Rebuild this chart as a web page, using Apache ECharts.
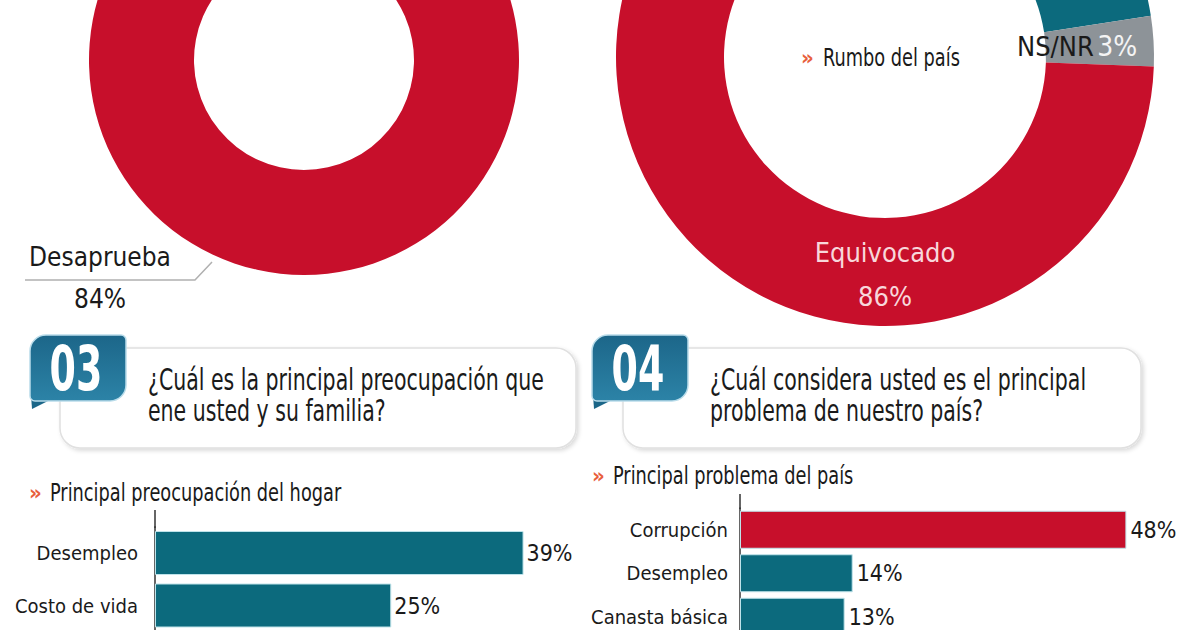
<!DOCTYPE html>
<html>
<head>
    <meta charset="utf-8">
    <title>Encuesta</title>
    <script src="https://cdn.jsdelivr.net/npm/echarts@6/dist/echarts.min.js"></script>
    <style>
        html, body { margin: 0; padding: 0; background: #fff; }
        #main { width: 1200px; height: 630px; }
    </style>
</head>
<body>
<div id="main"></div>
<script type="text/javascript">
    // datos
    var gestionNames = ['Aprueba', 'Desaprueba'];
    var gestionValues = [16, 84];

    var rumboNames = ['Correcto', 'NS/NR', 'Equivocado'];
    var rumboValues = [11, 3, 86];

    var hogarCats = ['Desempleo', 'Costo de vida'];
    var hogarValues = [39, 25];

    var paisCats = ['Corrupción', 'Desempleo', 'Canasta básica'];
    var paisValues = [48, 14, 13];

    var FONT = "'DejaVu Sans Condensed', 'Liberation Sans', sans-serif";
    var RED = '#c70f2b';
    var TEAL = '#0c6a7d';
    var GRAY = '#8d9398';
    var INK = '#1a1a1a';

    var myChart = echarts.init(document.getElementById('main'), null, {renderer: 'svg'});

    // piezas del encabezado de cada pregunta
    function header(x, num, boxX, boxW, lines) {
        return [
            {
                type: 'rect', z: 1,
                shape: {x: boxX, y: 348, width: boxW, height: 100, r: 20},
                style: {fill: '#fff', stroke: '#e0e0e0', lineWidth: 1.5,
                    shadowBlur: 4, shadowColor: 'rgba(0,0,0,0.15)', shadowOffsetX: 2, shadowOffsetY: 2}
            },
            {
                type: 'polygon', z: 2,
                shape: {points: [[x, 380], [x + 2, 409], [x + 24, 398]]},
                style: {fill: '#1b6688'}
            },
            {
                type: 'rect', z: 3,
                shape: {x: x, y: 335, width: 96, height: 66, r: [16, 5, 16, 5]},
                style: {
                    fill: new echarts.graphic.LinearGradient(0, 0, 0, 1, [
                        {offset: 0, color: '#1c6689'},
                        {offset: 1, color: '#2c83a7'}
                    ]),
                    stroke: '#b9dcea', lineWidth: 1.5
                }
            },
            {
                type: 'text', z: 4, x: x + 46, y: 369, scaleX: 0.68,
                style: {text: num, fill: '#fff', font: 'bold 62px ' + FONT, align: 'center', verticalAlign: 'middle'}
            },
            {
                type: 'text', z: 4, x: x + 118, y: 364, scaleX: 0.76,
                style: {text: lines, fill: INK, font: '30px ' + FONT, lineHeight: 31}
            }
        ];
    }

    function subtitle(x, y, txt) {
        return [
            {type: 'text', x: x, y: y, style: {text: '»', fill: '#e8603c', font: 'bold 22px ' + FONT, verticalAlign: 'middle'}},
            {type: 'text', x: x + 21, y: y, scaleX: 0.79, style: {text: txt, fill: INK, font: '25px ' + FONT, verticalAlign: 'middle'}}
        ];
    }

    var graphics = []
        .concat(header(30, '03', 60, 516, '¿Cuál es la principal preocupación que\nene usted y su familia?'))
        .concat(header(592, '04', 623, 518, '¿Cuál considera usted es el principal\nproblema de nuestro país?'))
        .concat(subtitle(29, 492, 'Principal preocupación del hogar'))
        .concat(subtitle(592, 475, 'Principal problema del país'))
        .concat([
            {type: 'text', x: 801, y: 57, z: 10, style: {text: '»', fill: '#e8603c', font: 'bold 22px ' + FONT, verticalAlign: 'middle'}},
            {type: 'text', x: 823, y: 57, z: 10, scaleX: 0.79, style: {text: 'Rumbo del país', fill: INK, font: '25px ' + FONT, verticalAlign: 'middle'}},
            // el eje vertical sube un poco por encima de las barras
            {type: 'line', shape: {x1: 155, y1: 510, x2: 155, y2: 528}, style: {stroke: '#333', lineWidth: 1.5}},
            {type: 'line', shape: {x1: 740, y1: 494, x2: 740, y2: 509}, style: {stroke: '#333', lineWidth: 1.5}}
        ]);

    var gestionColors = [TEAL, RED];
    var rumboColors = [TEAL, GRAY, RED];

    var option = {
        animation: false,
        textStyle: {fontFamily: FONT},
        graphic: graphics,
        grid: [
            {left: 155, top: 526.75, width: 378, height: 105, outerBoundsMode: 'none', containLabel: false},
            {left: 740, top: 508, width: 402.5, height: 130.5, outerBoundsMode: 'none', containLabel: false}
        ],
        xAxis: [
            {gridIndex: 0, type: 'value', min: 0, max: 40, show: false},
            {gridIndex: 1, type: 'value', min: 0, max: 50, show: false}
        ],
        yAxis: [
            {
                gridIndex: 0, type: 'category', inverse: true, data: hogarCats,
                axisLine: {lineStyle: {color: '#333', width: 1.5}},
                axisTick: {show: false},
                axisLabel: {fontSize: 20, color: INK, margin: 17, fontFamily: FONT}
            },
            {
                gridIndex: 1, type: 'category', inverse: true, data: paisCats,
                axisLine: {lineStyle: {color: '#333', width: 1.5}},
                axisTick: {show: false},
                axisLabel: {fontSize: 20, color: INK, margin: 12, fontFamily: FONT}
            }
        ],
        series: [
            {
                type: 'pie', silent: true,
                center: [304, 60], radius: [110, 215],
                startAngle: 118.8, avoidLabelOverlap: false,
                label: {show: false},
                labelLine: {show: false},
                data: gestionNames.map(function (n, i) {
                    var d = {name: n, value: gestionValues[i], itemStyle: {color: gestionColors[i]}};
                    if (n === 'Desaprueba') {
                        d.label = {
                            show: true, formatter: '{b}\n{c}%', color: INK,
                            fontSize: 26, lineHeight: 42, align: 'center', fontFamily: FONT
                        };
                        d.labelLine = {show: true, lineStyle: {color: '#b0b0b0', width: 1.5}};
                    }
                    return d;
                }),
                labelLayout: function (p) {
                    if (p.dataIndex !== 1) return;
                    return {
                        x: 100, y: 278, align: 'center', verticalAlign: 'middle',
                        labelLinePoints: [[212, 262], [195, 280], [25, 280]]
                    };
                }
            },
            {
                type: 'pie', silent: true,
                center: [885, 57], radius: [161, 269],
                startAngle: 48.4, avoidLabelOverlap: false,
                label: {show: false},
                labelLine: {show: false},
                data: rumboNames.map(function (n, i) {
                    var d = {name: n, value: rumboValues[i], itemStyle: {color: rumboColors[i]}};
                    if (n === 'Equivocado') {
                        d.label = {
                            show: true, formatter: '{b}\n{c}%', color: '#f8d7db',
                            fontSize: 27, lineHeight: 44, align: 'center', fontFamily: FONT
                        };
                    } else if (n === 'NS/NR') {
                        d.label = {
                            show: true, formatter: '{a|{b}} {c|{c}%}',
                            rich: {
                                a: {fontSize: 27, color: INK, fontFamily: FONT},
                                c: {fontSize: 28, color: '#f4f4f4', fontFamily: FONT}
                            }
                        };
                    }
                    return d;
                }),
                labelLayout: function (p) {
                    if (p.dataIndex === 2) {
                        return {x: 885, y: 274, align: 'center', verticalAlign: 'middle'};
                    }
                    if (p.dataIndex === 1) {
                        return {x: 1017, y: 46, align: 'left', verticalAlign: 'middle'};
                    }
                }
            },
            {
                type: 'bar', silent: true, xAxisIndex: 0, yAxisIndex: 0,
                barWidth: 44,
                data: hogarValues,
                itemStyle: {color: TEAL, borderColor: '#bfe3ea', borderWidth: 1},
                label: {show: true, position: 'right', distance: 3, formatter: '{c}%', fontSize: 23, color: INK, fontFamily: FONT}
            },
            {
                type: 'bar', silent: true, xAxisIndex: 1, yAxisIndex: 1,
                barWidth: 38,
                data: paisValues.map(function (v, i) {
                    return {value: v, itemStyle: {color: i === 0 ? RED : TEAL}};
                }),
                itemStyle: {borderColor: '#bfe3ea', borderWidth: 1},
                label: {show: true, position: 'right', distance: 4, formatter: '{c}%', fontSize: 23, color: INK, fontFamily: FONT}
            }
        ]
    };

    myChart.setOption(option);
</script>
</body>
</html>
